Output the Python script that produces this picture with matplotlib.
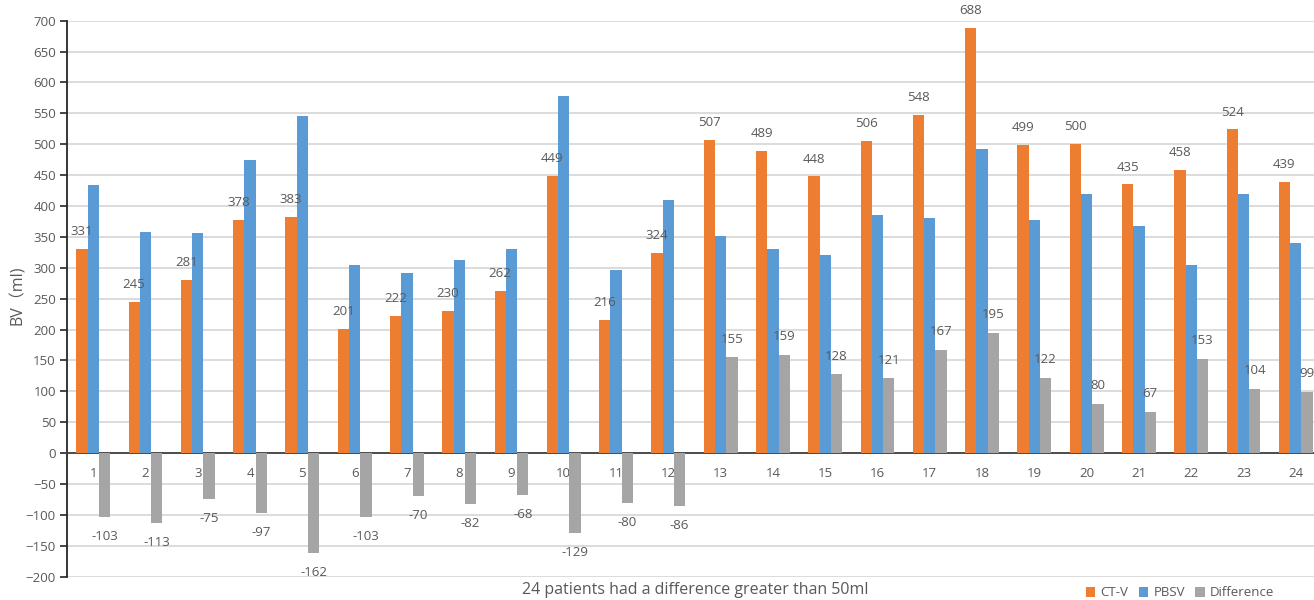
import numpy as np
import matplotlib
matplotlib.use("Agg")
import matplotlib.pyplot as plt

plt.rcParams['font.family'] = ['Open Sans', 'Noto Sans CJK SC', 'DejaVu Sans']

patients = [str(i) for i in range(1, 25)]
ct_v = [331, 245, 281, 378, 383, 201, 222, 230, 262, 449, 216, 324,
        507, 489, 448, 506, 548, 688, 499, 500, 435, 458, 524, 439]
difference = [-103, -113, -75, -97, -162, -103, -70, -82, -68, -129, -80, -86,
              155, 159, 128, 121, 167, 195, 122, 80, 67, 153, 104, 99]
pbsv = [434, 358, 356, 475, 545, 304, 292, 312, 330, 578, 296, 410,
        352, 330, 320, 385, 381, 493, 377, 420, 368, 305, 420, 340]

C_ORANGE = '#ED7D31'
C_BLUE = '#5B9BD5'
C_GRAY = '#A5A5A5'
C_TEXT = '#595959'
C_GRID = '#D9D9D9'

fig = plt.figure(figsize=(13.14, 6.0), dpi=100)
ax = fig.add_axes([0.051, 0.0388, 0.955, 0.9267])

x = np.arange(1, len(patients) + 1)
w = 0.216
ax.bar(x - w, ct_v, w, color=C_ORANGE, label='CT-V', zorder=3)
ax.bar(x, pbsv, w, color=C_BLUE, label='PBSV', zorder=3)
ax.bar(x + w, difference, w, color=C_GRAY, label='Difference', zorder=3)

fs = 9.5
for xi, v in zip(x, ct_v):
    ax.annotate(str(v), (xi - w, v), xytext=(0, 12.5), textcoords='offset points',
                ha='center', va='center', fontsize=fs, color=C_TEXT, zorder=4)
for xi, v in zip(x, difference):
    off = 13 if v >= 0 else -14
    ax.annotate(str(v), (xi + w, v), xytext=(0, off), textcoords='offset points',
                ha='center', va='center', fontsize=fs, color=C_TEXT, zorder=4)

ax.set_xlim(0.5, 24.5)
ax.set_ylim(-200, 700)
ax.set_yticks(np.arange(-200, 701, 50))
ax.yaxis.grid(True, color=C_GRID, linewidth=1.3, zorder=0)
ax.set_axisbelow(True)

# category labels sit just under the zero line
ax.set_xticks(x)
ax.set_xticklabels(patients)
ax.spines['bottom'].set_position(('data', 0))
ax.spines['bottom'].set_color('#404040')
ax.spines['bottom'].set_linewidth(1.3)
ax.tick_params(axis='x', length=0, pad=10, labelsize=fs, labelcolor=C_TEXT)
ax.tick_params(axis='y', length=5, width=1.2, color='#262626', labelsize=fs,
               labelcolor=C_TEXT, pad=3)
ax.spines['left'].set_color('#262626')
ax.spines['left'].set_linewidth(1.3)
for s in ('top', 'right'):
    ax.spines[s].set_visible(False)

fig.text(18 / 1314, 1 - 295 / 600, 'BV（ml)', rotation=90, ha='center', va='center',
         fontsize=11.5, color=C_TEXT)
fig.text(0.529, 0.017, '24 patients had a difference greater than 50ml',
         ha='center', va='center', fontsize=11.5, color=C_TEXT)

leg = ax.legend(loc='center left', bbox_to_anchor=(1074 / 1314, 1 - 593 / 600),
                bbox_transform=fig.transFigure, ncol=3, frameon=False,
                fontsize=9.5, labelcolor=C_TEXT, handlelength=0.7, handleheight=0.7,
                handletextpad=0.4, columnspacing=0.8)

fig.savefig('out.png', dpi=100)
